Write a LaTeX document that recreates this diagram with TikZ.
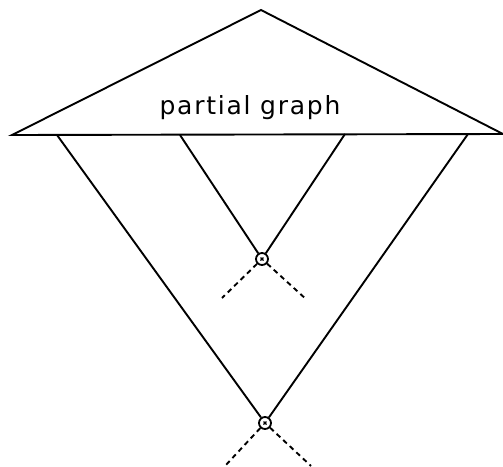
\documentclass[tikz,border=0pt]{standalone}
\usepackage{fontspec}
\setmainfont{DejaVu Sans}
\begin{document}
\begin{tikzpicture}[x=1pt,y=-1pt,
  edge/.style={line width=1.9pt},
  dashedge/.style={line width=1.9pt,dash pattern=on 5pt off 4pt},
  cut/.style={circle,draw,line width=1.8pt,minimum size=12pt,inner sep=0pt}]
\useasboundingbox (0,0) rectangle (503,466);
\coordinate (apex) at (261,10);
\coordinate (bl) at (12,135);
\coordinate (br) at (503,134);
\draw[edge,line join=miter] (bl) -- (apex) -- (br) -- cycle;
\node (lbl) at (250,108) {\fontsize{25}{30}\selectfont\addfontfeature{LetterSpace=7}partial graph};
\coordinate (o1) at (57,135);
\coordinate (o2) at (468,134);
\coordinate (i1) at (180,135);
\coordinate (i2) at (345,134);
\node[cut] (c1) at (262,259) {};
\node[cut] (c2) at (265,423) {};
\draw[line width=1.2pt] (c1.center) ++(-1.5,-1.5) -- ++(3,3) ++(0,-3) -- ++(-3,3);
\draw[line width=1.2pt] (c2.center) ++(-1.5,-1.5) -- ++(3,3) ++(0,-3) -- ++(-3,3);
\draw[edge] (i1) -- (c1);
\draw[edge] (i2) -- (c1);
\draw[edge] (o1) -- (c2);
\draw[edge] (o2) -- (c2);
\coordinate (d1) at (222,298);
\coordinate (d2) at (307,300);
\coordinate (d3) at (225,466);
\coordinate (d4) at (311,466);
\draw[dashedge] (c1) -- (d1);
\draw[dashedge] (c1) -- (d2);
\draw[dashedge] (c2) -- (d3);
\draw[dashedge] (c2) -- (d4);
\end{tikzpicture}
\end{document}
